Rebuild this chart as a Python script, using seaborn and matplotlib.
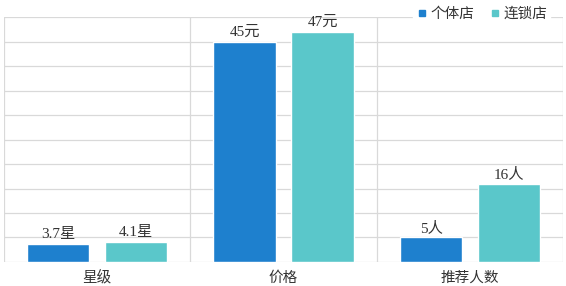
import pandas as pd
import matplotlib
matplotlib.use("Agg")
from matplotlib import pyplot as plt
from matplotlib.lines import Line2D
import seaborn as sns

categories = ["星级", "价格", "推荐人数"]
series = ["个体店", "连锁店"]
solo_vals = [3.7, 45, 5]
chain_vals = [4.1, 47, 16]
solo_labels = ["3.7星", "45元", "5人"]
chain_labels = ["4.1星", "47元", "16人"]
colors = ["#1E80CE", "#5AC7CA"]

df = pd.DataFrame({
    "cat": categories * 2,
    "shop": [series[0]] * 3 + [series[1]] * 3,
    "val": solo_vals + chain_vals,
})

sns.set_style("white")
plt.rcParams["font.family"] = ["Liberation Serif", "Noto Sans CJK SC"]

fig, ax = plt.subplots(figsize=(5.66, 2.86), dpi=100)
fig.subplots_adjust(left=0.007, right=0.995, top=0.94, bottom=0.084)

sns.barplot(data=df, x="cat", y="val", hue="shop", palette=colors,
            width=0.836, gap=0.2, saturation=1, legend=False, ax=ax)

for cont, labs in zip(ax.containers, [solo_labels, chain_labels]):
    ax.bar_label(cont, labels=labs, padding=2, fontsize=11, color="#333333")

ax.set_ylim(0, 50)
ax.set_xlim(-0.5, 2.5)
ax.set_yticks(range(0, 51, 5))
ax.set_xticks([-0.5, 0.5, 1.5, 2.5], minor=True)
ax.grid(axis="y", color="#d9d9d9", linewidth=0.9)
ax.grid(axis="x", which="minor", color="#d9d9d9", linewidth=0.9)
ax.set_axisbelow(True)
ax.tick_params(axis="y", left=False, labelleft=False)
ax.tick_params(axis="x", which="both", bottom=False, pad=3)
for t in ax.get_xticklabels():
    t.set_family("Noto Sans CJK SC")
    t.set_fontsize(10.5)
    t.set_color("#333333")
ax.set_xlabel("")
ax.set_ylabel("")
for s in ax.spines.values():
    s.set_visible(False)

handles = [Line2D([], [], marker="s", linestyle="", color=c, markersize=4.5)
           for c in colors]
leg = fig.legend(handles, series, loc="upper right", bbox_to_anchor=(0.985, 1.01),
                 ncol=2, frameon=True, fancybox=False, framealpha=1,
                 edgecolor="white", fontsize=10.5, handlelength=0.8,
                 handletextpad=0.2, columnspacing=1.0, borderpad=0.2)
for t in leg.get_texts():
    t.set_color("#333333")

fig.savefig("out.png", dpi=100)
